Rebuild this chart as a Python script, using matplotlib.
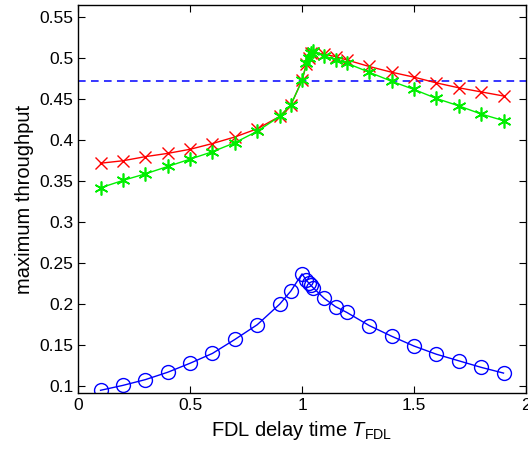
import numpy as np
import matplotlib
matplotlib.use("Agg")
import matplotlib.pyplot as plt

# data
delay = [0.1, 0.2, 0.3, 0.4, 0.5, 0.6, 0.7, 0.8, 0.9, 0.95, 1.0, 1.02, 1.03, 1.04, 1.05,
         1.1, 1.15, 1.2, 1.3, 1.4, 1.5, 1.6, 1.7, 1.8, 1.9]
red_x = [0.372, 0.375, 0.380, 0.384, 0.389, 0.396, 0.404, 0.414, 0.429, 0.443, 0.473, 0.493,
         0.500, 0.506, 0.507, 0.505, 0.502, 0.498, 0.490, 0.483, 0.477, 0.470, 0.464, 0.459, 0.454]
green_star = [0.342, 0.351, 0.359, 0.368, 0.377, 0.386, 0.397, 0.411, 0.429, 0.443, 0.473, 0.494,
              0.500, 0.507, 0.509, 0.503, 0.498, 0.494, 0.483, 0.472, 0.462, 0.451, 0.442, 0.432, 0.424]
blue_o = [0.095, 0.101, 0.108, 0.117, 0.128, 0.140, 0.157, 0.175, 0.200, 0.216, 0.237, 0.229,
          0.226, 0.223, 0.220, 0.207, 0.197, 0.190, 0.174, 0.161, 0.149, 0.139, 0.131, 0.123, 0.116]
baseline = 0.4724

plt.rcParams['font.family'] = ['Liberation Sans', 'DejaVu Sans']
plt.rcParams['mathtext.fontset'] = 'custom'
plt.rcParams['mathtext.rm'] = 'Liberation Sans'
plt.rcParams['mathtext.it'] = 'Liberation Sans:italic'

fig = plt.figure(figsize=(5.28, 4.54), dpi=100)
ax = fig.add_axes([0.148, 0.134, 0.848, 0.855])

ax.axhline(baseline, color="#0000ff", linestyle=(0, (5, 3.5)), linewidth=1.1)
ax.plot(delay, red_x, color="#ff0000", marker="x", markersize=8, markeredgewidth=1.0, linewidth=1.0)
ax.plot(delay, green_star, color="#00ee00", marker=(6, 2, 0), markersize=10, markeredgewidth=1.2, linewidth=1.0)
ax.plot(delay, blue_o, color="#0000ff", marker="o", markersize=10, markerfacecolor="none",
        markeredgewidth=1.0, linewidth=1.0)

ax.set_xlim(0, 2)
ax.set_ylim(0.0915, 0.565)
ax.set_xticks([0, 0.5, 1, 1.5, 2])
ax.set_xticklabels(["0", "0.5", "1", "1.5", "2"])
ax.set_yticks([0.1, 0.15, 0.2, 0.25, 0.3, 0.35, 0.4, 0.45, 0.5, 0.55])
ax.set_yticklabels(["0.1", "0.15", "0.2", "0.25", "0.3", "0.35", "0.4", "0.45", "0.5", "0.55"])
ax.tick_params(direction="in", top=True, right=True, labelsize=12.5, length=5, width=0.8)
for s in ax.spines.values():
    s.set_linewidth(1.0)

ax.set_xlabel(r"FDL delay time $T_{\mathrm{FDL}}$", fontsize=14.5, labelpad=4)
ax.set_ylabel("maximum throughput", fontsize=14.5, labelpad=4)

fig.savefig("out.png", dpi=100)
